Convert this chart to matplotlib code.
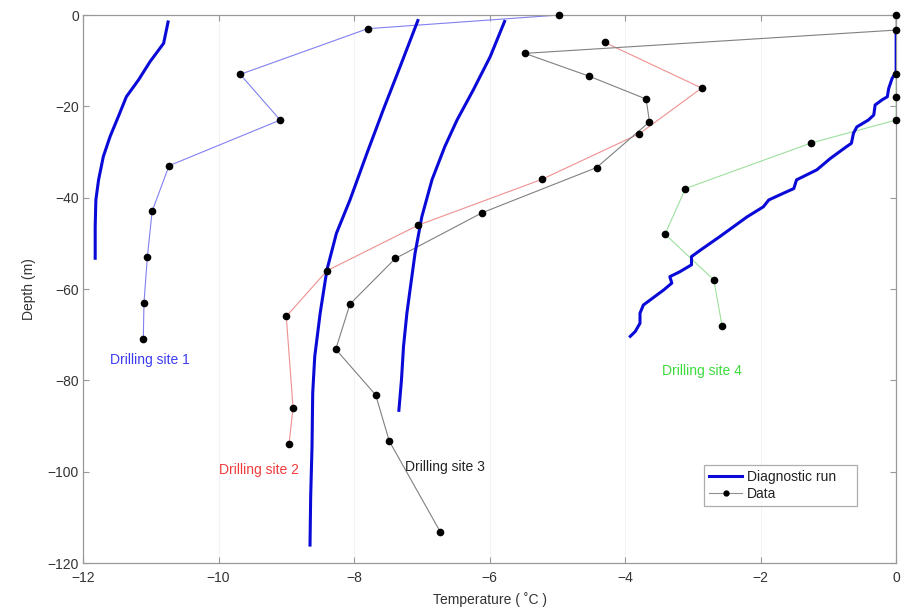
import numpy as np
import matplotlib
matplotlib.use("Agg")
import matplotlib.pyplot as plt

plt.rcParams['font.family'] = ['Liberation Sans', 'DejaVu Sans']
plt.rcParams['font.size'] = 10

# model (diagnostic run) profiles: temperature (C), depth (m)
run1_T = [-10.74, -10.81, -11.01, -11.18, -11.36, -11.48, -11.60, -11.70, -11.77, -11.81, -11.82, -11.82]
run1_D = [-1.2, -6.2, -10.2, -14.2, -17.9, -22.3, -26.6, -31.0, -36.1, -40.5, -46.4, -53.6]

run2_T = [-7.05, -7.32, -7.57, -7.81, -8.06, -8.26, -8.40, -8.50, -8.58, -8.61, -8.62, -8.64, -8.65]
run2_D = [-0.9, -11.3, -20.8, -30.3, -40.5, -47.8, -55.8, -65.3, -74.8, -82.8, -94.5, -105.5, -116.4]

run3_T = [-5.77, -5.99, -6.24, -6.48, -6.66, -6.85, -7.00, -7.10, -7.18, -7.22, -7.27, -7.30, -7.34]
run3_D = [-1.1, -9.1, -16.4, -23.0, -28.8, -36.1, -44.2, -52.2, -60.9, -65.3, -72.6, -79.9, -86.9]

run4_T = [0.0, 0.0, -0.06, -0.11, -0.13, -0.21, -0.31, -0.33, -0.41, -0.58, -0.63, -0.66, -0.73,
          -0.97, -1.17, -1.47, -1.51, -1.66, -1.88, -1.96, -2.20, -2.60, -2.89, -3.02, -3.02,
          -3.19, -3.34, -3.31, -3.43, -3.73, -3.78, -3.78, -3.85, -3.94]
run4_D = [-3.3, -12.4, -13.9, -16.1, -17.9, -18.6, -19.7, -21.9, -23.0, -24.5, -25.9, -28.1, -28.8,
          -31.4, -33.9, -36.1, -38.0, -39.0, -40.5, -42.0, -44.2, -48.5, -51.5, -52.9, -54.7,
          -56.2, -57.3, -58.7, -60.2, -63.5, -65.3, -67.5, -69.3, -70.6]

# borehole measurements
site1_T = [-4.97, -7.80, -9.68, -9.09, -10.73, -10.98, -11.05, -11.10, -11.11]
site1_D = [0, -3, -13, -23, -33, -43, -53, -63, -71]

site2_T = [-4.30, -2.87, -3.79, -5.23, -7.05, -8.40, -9.00, -8.90, -8.96]
site2_D = [-6, -16, -26, -36, -46, -56, -66, -86, -94]

site3_T = [0.0, 0.0, -5.48, -4.53, -3.69, -3.64, -4.42, -6.11, -7.39, -8.06, -8.27, -7.68, -7.48, -6.73]
site3_D = [0, -3.3, -8.4, -13.4, -18.4, -23.4, -33.4, -43.3, -53.3, -63.3, -73.2, -83.2, -93.3, -113.1]

site4_T = [0.0, 0.0, 0.0, -1.25, -3.11, -3.41, -2.69, -2.57]
site4_D = [-13, -18, -23, -28, -38, -48, -58, -68]

fig = plt.figure(figsize=(9.04, 6.10), dpi=100)
ax = fig.add_axes([0.0918, 0.077, 0.8995, 0.8984])

run_color = "#0a0ad8"
for T, D in [(run1_T, run1_D), (run2_T, run2_D), (run3_T, run3_D), (run4_T, run4_D)]:
    ax.plot(T, D, color=run_color, lw=2.2, solid_capstyle='butt', solid_joinstyle='round', zorder=3)

site_colors = ["#8080f0", "#f09090", "#808080", "#9de09d"]
for (T, D), c in zip([(site1_T, site1_D), (site2_T, site2_D), (site3_T, site3_D), (site4_T, site4_D)],
                     site_colors):
    ax.plot(T, D, color=c, lw=0.8, zorder=2)
    ax.plot(T, D, 'o', color='black', ms=4.5, zorder=4, clip_on=False)

# legend proxies
ax.plot([], [], color=run_color, lw=2.2, label="Diagnostic run")
ax.plot([], [], color="#909090", lw=0.8, marker='o', mfc='black', mec='black', ms=3.5,
        label="Data")

ax.text(-11.6, -75.6, "Drilling site 1", color="#3c3cf0", va='center', fontsize=10)
ax.text(-10.0, -99.6, "Drilling site 2", color="#f03c3c", va='center', fontsize=10)
ax.text(-7.25, -98.9, "Drilling site 3", color="#222222", va='center', fontsize=10)
ax.text(-3.46, -77.9, "Drilling site 4", color="#3cdc3c", va='center', fontsize=10)

ax.set_xlim(-12, 0)
ax.set_ylim(-120, 0)
ax.set_xticks(np.arange(-12, 1, 2))
ax.set_yticks(np.arange(-120, 1, 20))
ax.tick_params(direction='in', top=True, right=True, length=4, colors='#999999',
               labelcolor='#333333', labelsize=10)
ax.tick_params(axis='x', pad=6)
ax.tick_params(axis='y', pad=3)
for sp in ax.spines.values():
    sp.set_color('#999999')
    sp.set_linewidth(0.9)
ax.grid(True, axis='x', color='#f3f3f3', lw=0.8)
ax.set_axisbelow(True)

ax.set_xlabel("Temperature ( ˚C )", color='#333333', labelpad=5)
ax.set_ylabel("Depth (m)", color='#333333', labelpad=8)

leg = ax.legend(loc='lower left', bbox_to_anchor=(0.764, 0.104, 0.188, 0.099), mode='expand',
                frameon=True, fancybox=False, borderpad=0.35, handlelength=2.4,
                handletextpad=0.3, labelspacing=0.25, fontsize=10, borderaxespad=0)
leg.get_frame().set_edgecolor('#999999')
leg.get_frame().set_linewidth(0.9)
for t in leg.get_texts():
    t.set_color('#222222')

fig.savefig("out.png", dpi=100)
